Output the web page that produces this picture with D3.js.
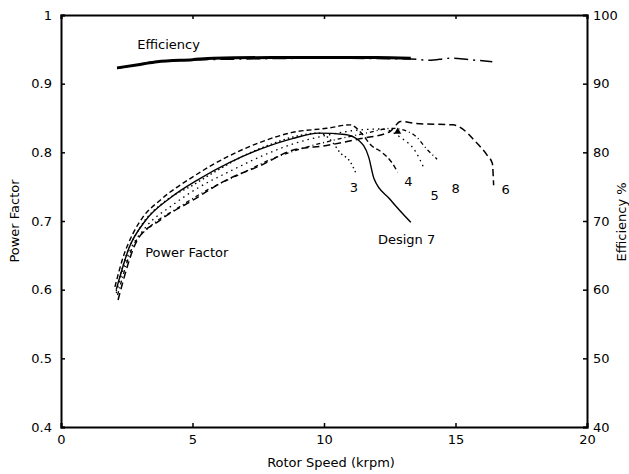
<!DOCTYPE html>
<html><head><meta charset="utf-8">
<script src="https://cdn.jsdelivr.net/npm/d3@7"></script>
<style>
body{margin:0;background:#fff;}
text{font-family:"DejaVu Sans",sans-serif;fill:#000;}
</style></head>
<body><svg id="c" width="629" height="474"></svg>
<script>
// ---- data ----
const xTicks = [0, 5, 10, 15, 20];
const pfTicks = [0.4, 0.5, 0.6, 0.7, 0.8, 0.9, 1];
const effTicks = [40, 50, 60, 70, 80, 90, 100];

// power factor curves [speed krpm, PF]
const design4 = [[2.05,0.604],[2.36,0.647],[2.74,0.682],[3.12,0.706],[3.76,0.730],[5.0,0.764],[6.3,0.793],[7.6,0.815],[8.8,0.829],[10.1,0.835],[11.0,0.840],[11.4,0.829],[11.8,0.810],[12.2,0.800],[12.6,0.784],[12.8,0.771]];
const design3 = [[2.1,0.598],[2.5,0.652],[3.0,0.690],[4.0,0.730],[5.0,0.752],[6.0,0.775],[7.0,0.796],[8.0,0.812],[9.0,0.824],[9.8,0.828],[10.3,0.816],[10.6,0.800],[11.0,0.786],[11.2,0.771]];
const design5 = [[2.1,0.595],[2.6,0.655],[3.2,0.690],[4.2,0.722],[5.2,0.748],[6.4,0.772],[7.6,0.794],[8.8,0.812],[10.0,0.824],[11.2,0.832],[12.2,0.834],[12.9,0.822],[13.5,0.800],[13.8,0.777]];
const design8 = [[2.15,0.592],[2.7,0.660],[3.4,0.692],[4.4,0.718],[5.6,0.746],[6.8,0.768],[8.0,0.790],[9.2,0.806],[10.4,0.818],[11.6,0.828],[12.6,0.835],[13.4,0.826],[13.95,0.803],[14.3,0.790]];
const design6 = [[2.17,0.585],[2.9,0.672],[3.76,0.701],[5.0,0.730],[6.3,0.760],[7.6,0.781],[8.8,0.803],[10.1,0.810],[11.4,0.820],[12.5,0.830],[12.7,0.838],[12.9,0.845],[13.5,0.842],[14.9,0.840],[15.4,0.830],[15.7,0.818],[16.2,0.796],[16.4,0.784],[16.45,0.752]];
const design7 = [[2.1,0.600],[2.6,0.662],[3.2,0.700],[4.2,0.735],[5.2,0.760],[6.4,0.785],[7.6,0.805],[8.8,0.820],[9.8,0.828],[10.8,0.826],[11.3,0.818],[11.7,0.793],[11.9,0.762],[12.5,0.732],[13.3,0.698]];
const rated6 = [[12.8, 0.830]];

// efficiency curves [speed krpm, efficiency %]
const effMain = [[2.13,92.3],[3.0,92.8],[3.65,93.2],[5.0,93.5],[5.8,93.7],[8.0,93.8],[10.0,93.8],[12.0,93.8],[13.3,93.7]];
const effLong = [[2.13,92.2],[4.0,93.3],[7.0,93.6],[10.0,93.7],[13.3,93.6],[14.0,93.4],[14.8,93.7],[15.5,93.5],[16.4,93.2]];

const pfLabels = [{t:"3",x:10.98,y:0.742},{t:"4",x:13.05,y:0.751},{t:"5",x:14.05,y:0.731},{t:"8",x:14.85,y:0.741},{t:"6",x:16.75,y:0.739},{t:"Design 7",x:12.05,y:0.667}];

// ---- chart ----
const svg = d3.select("#c");
const L = 61, R = 587, T = 15, B = 427;
const x = d3.scaleLinear().domain([0,20]).range([L,R]);
const y = d3.scaleLinear().domain([0.4,1]).range([B,T]);
const yE = d3.scaleLinear().domain([40,100]).range([B,T]);

const line = d3.line().x(d=>x(d[0])).y(d=>y(d[1])).curve(d3.curveMonotoneX);
const lineE = d3.line().x(d=>x(d[0])).y(d=>yE(d[1])).curve(d3.curveMonotoneX);

const FONT = "DejaVu Sans, sans-serif";
const fmtPF = d => d === 1 ? "1" : d.toFixed(1);
// axes
svg.append("g").attr("transform",`translate(0,${B})`)
  .call(d3.axisBottom(x).tickValues(xTicks).tickSize(-4).tickPadding(8).tickFormat(d3.format("d")));
svg.append("g").attr("transform",`translate(0,${T})`)
  .call(d3.axisTop(x).tickValues(xTicks).tickSize(-4).tickFormat(""));
svg.append("g").attr("transform",`translate(${L},0)`)
  .call(d3.axisLeft(y).tickValues(pfTicks).tickSize(-4).tickPadding(9).tickFormat(fmtPF));
svg.append("g").attr("transform",`translate(${R},0)`)
  .call(d3.axisRight(yE).tickValues(effTicks).tickSize(-4).tickPadding(6).tickFormat(d3.format("d")));
svg.selectAll(".domain").attr("stroke","#000").attr("stroke-width",2);
svg.selectAll(".tick line").attr("stroke","#000").attr("stroke-width",1.5);
svg.selectAll(".tick text").attr("font-size",13).attr("font-family",FONT);

// PF curves
const styles = [
  [design4,"5,3",1.4],
  [design3,"1.5,3",1.4],
  [design5,"1.5,4",1.3],
  [design8,"4,3,1,3",1.3],
  [design6,"7,4",1.5],
  [design7,null,1.4]
];
styles.forEach(([d,dash,w])=>{
  svg.append("path").datum(d).attr("d",line).attr("fill","none")
    .attr("stroke","#000").attr("stroke-width",w).attr("stroke-dasharray",dash);
});
svg.selectAll(".tri").data(rated6).enter().append("path")
  .attr("d",d3.symbol(d3.symbolTriangle,22))
  .attr("transform",d=>`translate(${x(d[0])},${y(d[1])})`).attr("fill","#000");

// efficiency curves
svg.append("path").datum(effMain).attr("d",lineE).attr("fill","none").attr("stroke","#000").attr("stroke-width",3);
svg.append("path").datum(effLong).attr("d",lineE).attr("fill","none").attr("stroke","#000").attr("stroke-width",1.5).attr("stroke-dasharray","14,5,2,5");

// in-plot labels
svg.append("text").attr("x",x(2.9)).attr("y",y(0.95)).attr("font-size",13).text("Efficiency");
svg.append("text").attr("x",x(3.2)).attr("y",y(0.647)).attr("font-size",13).text("Power Factor");
svg.selectAll(".lab").data(pfLabels).enter().append("text")
  .attr("x",d=>x(d.x)).attr("y",d=>y(d.y)).attr("font-size",13).text(d=>d.t);

// axis titles
svg.append("text").attr("x",331).attr("y",467).attr("text-anchor","middle").attr("font-size",13).text("Rotor Speed (krpm)");
svg.append("text").attr("transform","translate(19,221) rotate(-90)").attr("text-anchor","middle").attr("font-size",13).text("Power Factor");
svg.append("text").attr("transform","translate(626,222) rotate(-90)").attr("text-anchor","middle").attr("font-size",13).text("Efficiency %");
</script></body></html>
